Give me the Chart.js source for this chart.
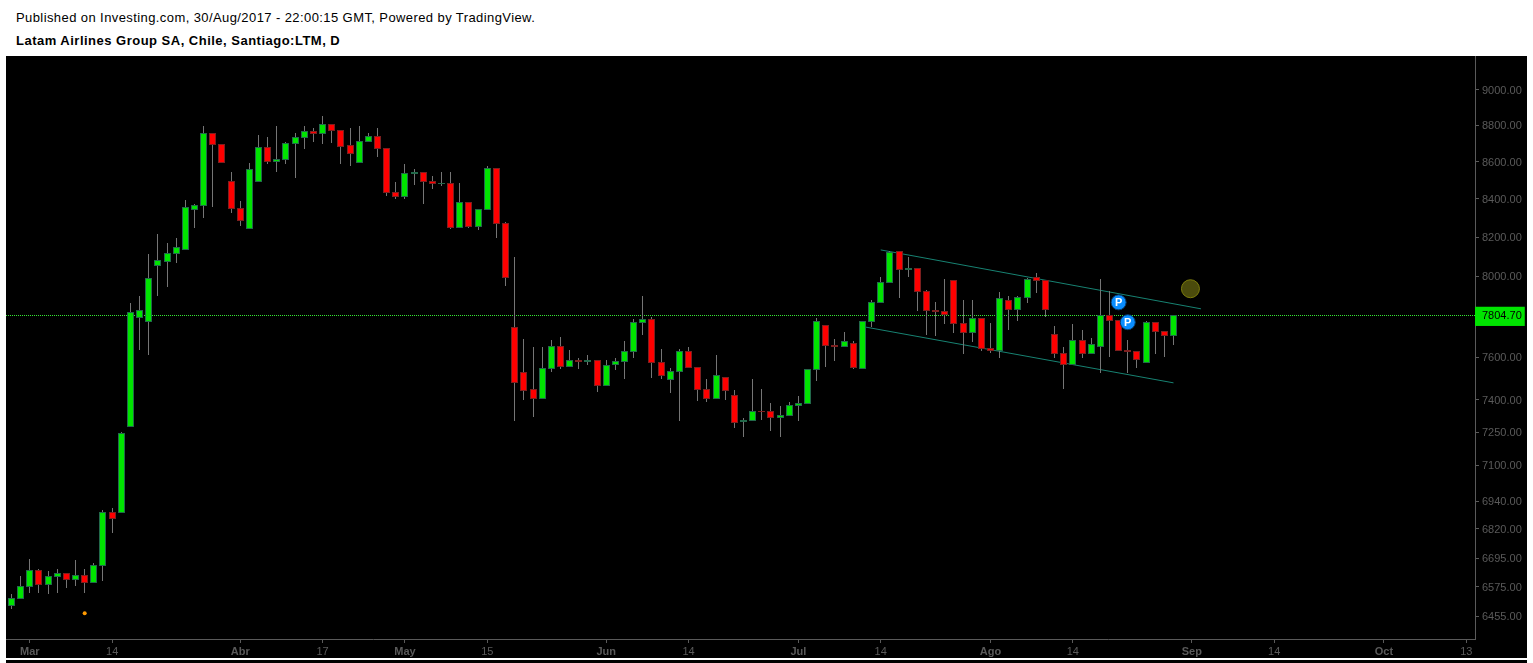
<!DOCTYPE html>
<html>
<head>
<meta charset="utf-8">
<title>Latam Airlines Group SA</title>
<script src="https://cdn.jsdelivr.net/npm/chart.js@4"></script>
<style>
html, body { margin: 0; padding: 0; background: #fff; overflow: hidden; }
#pub, #sym { position: absolute; left: 16px; font-family: "Liberation Sans", Arial, sans-serif; font-size: 13px; color: #000; white-space: nowrap; }
#pub { top: 10px; letter-spacing: 0.41px; }
#sym { top: 33px; font-weight: bold; letter-spacing: 0.49px; }
#panel { position: absolute; left: 6px; top: 56px; width: 1521px; height: 602px; background: #000; }
#foot { position: absolute; left: 6px; top: 660px; width: 1521px; height: 3px; background: #000; }
</style>
</head>
<body>
<div id="pub">Published on Investing.com, 30/Aug/2017 - 22:00:15 GMT, Powered by TradingView.</div>
<div id="sym">Latam Airlines Group SA, Chile, Santiago:LTM, D</div>
<div id="panel"><canvas id="priceChart" width="1521" height="602"></canvas></div>
<div id="foot"></div>
<script>
// daily candles, one entry per session
const opens = [6497,6525,6575,6646,6583,6617,6634,6604,6625,6592,6663,6893,6889,7274,7792,7773,8053,8073,8113,8134,
  8342,8363,8758,8697,8497,8353,8243,8491,8680,8599,8610,8697,8730,8769,8752,8808,8775,8691,8594,8708,
  8741,8675,8438,8411,8535,8545,8497,8481,8486,8248,8384,8253,8342,8567,8274,7748,7531,7451,7403,7546,
  7655,7555,7588,7579,7588,7465,7565,7579,7626,7768,7788,7579,7493,7531,7631,7555,7451,7403,7508,7422,
  7297,7302,7348,7348,7315,7325,7371,7380,7541,7758,7660,7650,7670,7546,7773,7866,7967,8128,8032,8042,
  7926,7832,7827,7982,7768,7719,7792,7646,7631,7881,7832,7890,7997,7982,7714,7622,7565,7685,7617,7650,
  7807,7783,7636,7631,7574,7773,7729,7704];
const highs = [6546,6621,6692,6650,6642,6650,6634,6688,6650,6675,6902,6911,7251,7866,7901,8113,8217,8169,8196,8394,
  8373,8797,8758,8697,8545,8389,8594,8746,8735,8797,8708,8758,8797,8786,8853,8808,8775,8786,8797,8758,
  8786,8675,8491,8588,8561,8545,8524,8545,8545,8486,8384,8347,8578,8567,8279,8098,7690,7650,7650,7685,
  7699,7636,7598,7612,7588,7588,7598,7680,7788,7901,7797,7641,7550,7641,7650,7555,7498,7612,7508,7446,
  7315,7498,7451,7385,7371,7389,7417,7546,7792,7758,7690,7724,7680,7778,7881,7997,8128,8128,8098,8042,
  7931,7871,7987,7982,7881,7881,7792,7768,7921,7901,7901,7992,8018,7982,7753,7650,7763,7734,7695,7987,
  7926,7783,7685,7631,7778,7773,7729,7804.7];
const lows = [6484,6525,6550,6550,6546,6550,6571,6579,6550,6592,6600,6803,6889,7274,7636,7612,7901,7947,8068,8134,
  8248,8300,8358,8594,8327,8259,8243,8491,8588,8545,8588,8513,8669,8708,8697,8702,8588,8578,8594,8708,
  8626,8416,8400,8400,8476,8373,8454,8470,8243,8248,8248,8238,8342,8196,7952,7302,7398,7320,7403,7531,
  7546,7555,7546,7565,7436,7465,7541,7498,7598,7709,7503,7498,7432,7302,7550,7394,7389,7403,7398,7270,
  7228,7302,7306,7256,7228,7325,7302,7380,7489,7555,7584,7650,7546,7546,7748,7866,7967,7890,7997,7827,
  7709,7704,7763,7719,7617,7675,7631,7622,7598,7734,7778,7866,7916,7797,7598,7451,7565,7598,7617,7527,
  7603,7631,7527,7550,7574,7617,7603,7660];
const closes = [6528,6579,6646,6583,6621,6634,6604,6625,6592,6667,6893,6863,7247,7822,7832,7992,8083,8118,8149,8358,
  8368,8758,8691,8594,8347,8285,8561,8680,8599,8615,8702,8735,8769,8752,8808,8769,8680,8642,8713,8741,
  8669,8432,8411,8540,8545,8491,8481,8486,8248,8384,8253,8347,8567,8269,7992,7479,7441,7403,7550,7655,
  7555,7588,7579,7588,7465,7565,7584,7631,7773,7788,7574,7512,7536,7631,7550,7446,7403,7517,7441,7292,
  7306,7348,7343,7315,7329,7375,7385,7546,7778,7655,7650,7680,7550,7778,7871,7972,8123,8032,8042,7921,
  7827,7822,7807,7763,7719,7792,7641,7631,7890,7832,7896,7987,7977,7832,7617,7565,7685,7617,7665,7807,
  7778,7631,7626,7588,7773,7724,7704,7804.7];

const lastPrice = 7804.70;
const priceTicks = [9000, 8800, 8600, 8400, 8200, 8000, 7600, 7400, 7250, 7100, 6940, 6820, 6695, 6575, 6455];
const dateTickSlots = [2, 11, 25, 34, 43, 52, 65, 74, 86, 95, 107, 116, 129, 138, 150, 159];
const dateTickLabels = ['Mar', '14', 'Abr', '17', 'May', '15', 'Jun', '14', 'Jul', '14', 'Ago', '14', 'Sep', '14', 'Oct', '13'];

// drawings on the chart
const channelTop = [{ x: 95, y: 8134 }, { x: 130, y: 7837 }];
const channelBottom = [{ x: 93, y: 7750 }, { x: 127, y: 7479 }];
const publishMarks = [{ x: 121, y: 7869 }, { x: 122, y: 7771 }];
const yellowMark = [{ x: 128.85, y: 7937 }];
const orangeMark = [{ x: 8, y: 6466 }];

const slotMin = -0.6;
const slotMax = 159.95;
const priceMin = 6362;
const priceMax = 9193.6;

const axisFont = 'Liberation Sans, Arial, sans-serif';
const axisGrey = '#5a5a5a';

const candleIndexes = opens.map((o, i) => i);
const isUp = i => closes[i] >= opens[i];

// canvas rects look blurry on fractions, so put the bars on whole pixels like the original
const pixelSnap = {
    id: 'pixelSnap',
    beforeDatasetsDraw(chart) {
        chart.getSortedVisibleDatasetMetas().forEach(meta => {
            if (meta.type === 'bar') {
                meta.data.forEach(bar => {
                    bar.x = Math.floor(bar.x) + 0.5;
                    bar.y = Math.round(bar.y);
                    bar.base = Math.round(bar.base);
                });
            }
            if (meta.label === 'Last') {
                meta.data.forEach(pt => { pt.y = Math.floor(pt.y) + 0.5; });
            }
        });
    }
};

// white P on the blue publish marks
const publishLetters = {
    id: 'publishLetters',
    afterDatasetsDraw(chart) {
        const idx = chart.data.datasets.findIndex(d => d.label === 'Published');
        const { ctx } = chart;
        ctx.save();
        ctx.fillStyle = '#fff';
        ctx.font = 'bold 11px ' + axisFont;
        ctx.textAlign = 'center';
        ctx.textBaseline = 'middle';
        chart.getDatasetMeta(idx).data.forEach(pt => ctx.fillText('P', pt.x, pt.y + 0.5));
        ctx.restore();
    }
};

new Chart(document.getElementById('priceChart'), {
    type: 'bar',
    data: {
        datasets: [
            {
                type: 'line', label: 'Channel top', data: channelTop, order: 6,
                borderColor: '#178272', borderWidth: 1, pointRadius: 0
            },
            {
                type: 'line', label: 'Channel bottom', data: channelBottom, order: 6,
                borderColor: '#178272', borderWidth: 1, pointRadius: 0
            },
            {
                type: 'line', label: 'Last', order: 5,
                data: [{ x: slotMin, y: lastPrice }, { x: slotMax, y: lastPrice }],
                borderColor: '#35e835', borderWidth: 1, borderDash: [1, 1], pointRadius: 0
            },
            {
                label: 'Wick', order: 4, grouped: false, barThickness: 1, inflateAmount: 0,
                data: candleIndexes.map(i => ({ x: i, y: [lows[i], highs[i]] })),
                backgroundColor: '#757575', borderWidth: 0
            },
            {
                label: 'Body', order: 3, grouped: false, barThickness: 7, inflateAmount: 0,
                data: candleIndexes.map(i => ({ x: i, y: [opens[i], closes[i]] })),
                backgroundColor: candleIndexes.map(i => isUp(i) ? '#00e400' : '#ff0000'),
                borderColor: candleIndexes.map(i => isUp(i) ? '#22694a' : '#7d1f1f'),
                borderWidth: 1, borderSkipped: false
            },
            {
                type: 'line', label: 'Published', data: publishMarks, order: 2, showLine: false,
                pointRadius: 7.5, pointBackgroundColor: '#0a8dff', pointBorderColor: '#063d70', pointBorderWidth: 1
            },
            {
                type: 'line', label: 'Yellow', data: yellowMark, order: 1, showLine: false,
                pointRadius: 9, pointBackgroundColor: '#4b4b0c', pointBorderColor: '#7d7d0c', pointBorderWidth: 1
            },
            {
                type: 'line', label: 'Orange', data: orangeMark, order: 1, showLine: false,
                pointRadius: 2, pointBackgroundColor: '#ff9a00', pointBorderWidth: 0
            }
        ]
    },
    options: {
        responsive: false,
        animation: false,
        // big markers would otherwise push the plot 10px in from the panel edges
        layout: { padding: 0, autoPadding: false },
        plugins: {
            legend: { display: false },
            tooltip: { enabled: false }
        },
        scales: {
            x: {
                type: 'linear',
                min: slotMin,
                max: slotMax,
                bounds: 'data',
                offset: false,
                afterBuildTicks: scale => {
                    scale.ticks = dateTickSlots.map(v => ({ value: v }));
                },
                afterFit: scale => {
                    scale.height = 19;
                    scale.paddingLeft = 0;
                    scale.paddingRight = 0;
                },
                border: { color: axisGrey, width: 1 },
                grid: { offset: false, drawOnChartArea: false, tickLength: 4, tickColor: axisGrey },
                ticks: {
                    autoSkip: false,
                    maxRotation: 0,
                    padding: 2,
                    color: axisGrey,
                    font: ctx => ({
                        family: axisFont,
                        size: 11,
                        weight: /^\d/.test(String(ctx.tick && ctx.tick.label)) ? 'normal' : 'bold'
                    }),
                    callback: value => dateTickLabels[dateTickSlots.indexOf(value)]
                }
            },
            y: {
                type: 'logarithmic',
                position: 'right',
                min: priceMin,
                max: priceMax,
                bounds: 'data',
                afterBuildTicks: scale => {
                    scale.ticks = priceTicks.concat(lastPrice).map(v => ({ value: v }));
                },
                afterFit: scale => {
                    scale.width = 52;
                    scale.paddingTop = 0;
                    scale.paddingBottom = 0;
                },
                border: { color: axisGrey, width: 1 },
                grid: { drawOnChartArea: false, tickLength: 4, tickColor: axisGrey },
                ticks: {
                    autoSkip: false,
                    padding: 3,
                    labelOffset: 1,
                    font: { family: axisFont, size: 11 },
                    color: ctx => ctx.tick.value === lastPrice ? '#000' : axisGrey,
                    showLabelBackdrop: ctx => ctx.tick.value === lastPrice,
                    backdropColor: '#00e400',
                    backdropPadding: { left: 7, right: 3, top: 3, bottom: 3 },
                    callback: value => value.toFixed(2)
                }
            }
        }
    },
    plugins: [pixelSnap, publishLetters]
});
</script>
</body>
</html>
